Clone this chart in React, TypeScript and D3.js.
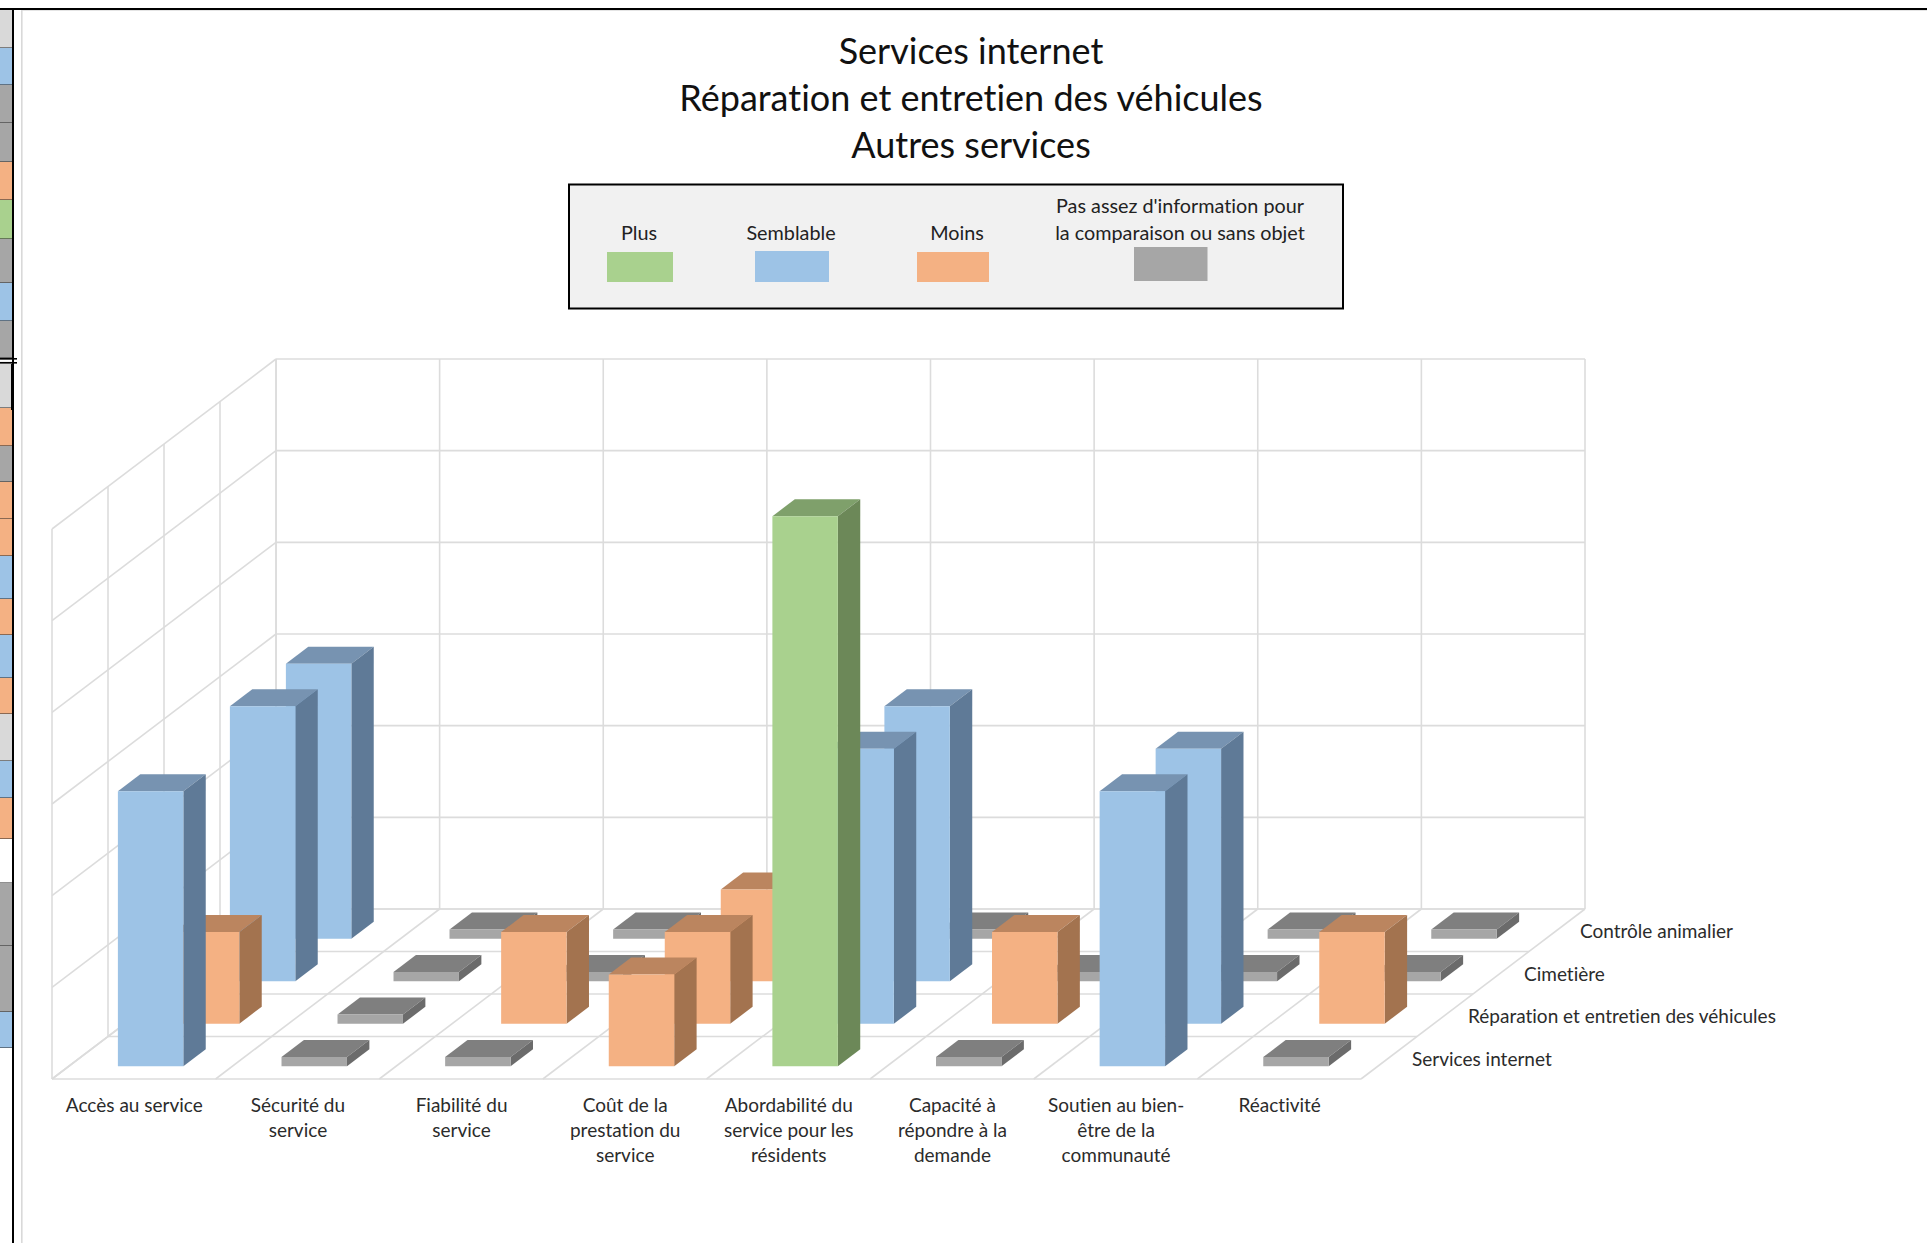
import React from "react";
import * as d3 from "d3";

// Categories along the front edge, and how each label wraps.
const categories = [
  "Accès au service",
  "Sécurité du service",
  "Fiabilité du service",
  "Coût de la prestation du service",
  "Abordabilité du service pour les résidents",
  "Capacité à répondre à la demande",
  "Soutien au bien-être de la communauté",
  "Réactivité",
];
const categoryLines = [
  ["Accès au service"],
  ["Sécurité du", "service"],
  ["Fiabilité du", "service"],
  ["Coût de la", "prestation du", "service"],
  ["Abordabilité du", "service pour les", "résidents"],
  ["Capacité à", "répondre à la", "demande"],
  ["Soutien au bien-", "être de la", "communauté"],
  ["Réactivité"],
];

// Series, front row first.
const seriesNames = [
  "Services internet",
  "Réparation et entretien des véhicules",
  "Cimetière",
  "Contrôle animalier",
];
const servicesInternet = [3, 0.1, 0.1, 1, 6, 0.1, 3, 0.1];
const reparationVehicules = [1, 0.1, 1, 1, 3, 1, 3, 1];
const cimetiere = [3, 0.1, 0.1, 1, 3, 0.1, 0.1, 0.1];
const controleAnimalier = [3, 0.1, 0.1, 0.1, 0.1, 0.1, 0.1, 0.1];
const seriesValues = [servicesInternet, reparationVehicules, cimetiere, controleAnimalier];

const valueTicks = [0, 1, 2, 3, 4, 5, 6];
const titleLines = ["Services internet", "Réparation et entretien des véhicules", "Autres services"];

type Faces = { front: string; top: string; side: string };
const BLUE: Faces = { front: "#9DC3E6", top: "#7793B1", side: "#5F7A97" };
const ORANGE: Faces = { front: "#F4B183", top: "#BB855F", side: "#A3734F" };
const GREEN: Faces = { front: "#A9D18E", top: "#7FA06B", side: "#6C8858" };
const GREY: Faces = { front: "#A6A6A6", top: "#7F7F7F", side: "#6B6B6B" };
const facesFor = (v: number): Faces => (v >= 6 ? GREEN : v >= 3 ? BLUE : v >= 1 ? ORANGE : GREY);

// Spreadsheet cells peeking out at the left edge: lower bound and fill.
const CELL_L = "#D9D9D9";
const CELL_B = "#9DC3E6";
const CELL_G = "#A6A6A6";
const CELL_O = "#F4B183";
const CELL_V = "#A9D18E";
const CELL_W = "#FFFFFF";
const sheetCellEnds = [48, 85, 123, 162, 200, 239, 283, 321, 358, 408, 446, 482, 519, 556, 599, 635, 678, 714, 761, 798, 839, 883, 946, 1012, 1048, 1243];
const sheetCellFills = [CELL_L, CELL_B, CELL_G, CELL_G, CELL_O, CELL_V, CELL_G, CELL_B, CELL_G, CELL_L, CELL_O, CELL_G, CELL_O, CELL_O, CELL_B, CELL_O, CELL_B, CELL_O, CELL_L, CELL_B, CELL_O, CELL_W, CELL_G, CELL_G, CELL_B, CELL_W];
const thickSheetRules = [123, 200, 714, 798, 839, 946, 1048];

const FONT = "Lato, Carlito, Calibri, sans-serif";
const LABEL_SIZE = 19;

// Oblique box geometry: the floor is sheared by this vector from front to back.
const FLOOR_LEFT = 52;
const FLOOR_RIGHT = 1361;
const FLOOR_FRONT_Y = 1079;
const DEPTH_DX = 224;
const DEPTH_DY = -170;
const WALL_H = 550;

const xGrid = d3.scaleLinear().domain([0, categories.length]).range([FLOOR_LEFT, FLOOR_RIGHT]);
const xBar = d3
  .scaleBand<string>()
  .domain(categories)
  .range([FLOOR_LEFT, FLOOR_RIGHT])
  .paddingInner(0.6)
  .paddingOuter(0.3);
const depthBar = d3
  .scaleBand<string>()
  .domain(seriesNames)
  .range([0, 1])
  .paddingInner(0.6)
  .paddingOuter(0.3);
const depthGrid = d3.scaleLinear().domain([0, seriesNames.length]).range([0, 1]);
const zScale = d3.scaleLinear().domain([0, 6]).range([0, WALL_H]);

type Pt = [number, number];
const project = (x: number, depth: number, value: number): Pt => [
  x + depth * DEPTH_DX,
  FLOOR_FRONT_Y + depth * DEPTH_DY - zScale(value),
];
const poly = (pts: Pt[]) => (d3.line()(pts) ?? "") + "Z";
const seg = (a: Pt, b: Pt) => d3.line()([a, b]) ?? "";

const gridSegments: string[] = [];
// Back wall and side wall, one rule per value tick.
valueTicks.forEach((t) => {
  gridSegments.push(seg(project(FLOOR_LEFT, 0, t), project(FLOOR_LEFT, 1, t)));
  gridSegments.push(seg(project(FLOOR_LEFT, 1, t), project(FLOOR_RIGHT, 1, t)));
});
d3.range(seriesNames.length + 1).forEach((i) => {
  const d = depthGrid(i);
  gridSegments.push(seg(project(FLOOR_LEFT, d, 0), project(FLOOR_LEFT, d, 6)));
  gridSegments.push(seg(project(FLOOR_LEFT, d, 0), project(FLOOR_RIGHT, d, 0)));
});
d3.range(categories.length + 1).forEach((i) => {
  const x = xGrid(i);
  gridSegments.push(seg(project(x, 1, 0), project(x, 1, 6)));
  gridSegments.push(seg(project(x, 0, 0), project(x, 1, 0)));
});

// Back row first so nearer columns paint over farther ones.
const drawOrder = d3.range(seriesNames.length).reverse();

function Column({ cat, s }: { cat: number; s: number }) {
  const v = seriesValues[s][cat];
  const x0 = xBar(categories[cat])!;
  const x1 = x0 + xBar.bandwidth();
  const d0 = depthBar(seriesNames[s])!;
  const d1 = d0 + depthBar.bandwidth();
  const f = facesFor(v);
  return (
    <g>
      <path d={poly([project(x0, d0, v), project(x1, d0, v), project(x1, d1, v), project(x0, d1, v)])} fill={f.top} />
      <path d={poly([project(x1, d0, 0), project(x1, d1, 0), project(x1, d1, v), project(x1, d0, v)])} fill={f.side} />
      <path d={poly([project(x0, d0, 0), project(x1, d0, 0), project(x1, d0, v), project(x0, d0, v)])} fill={f.front} />
    </g>
  );
}

function SheetEdge() {
  return (
    <g>
      {sheetCellFills.map((fill, i) => {
        const y0 = i === 0 ? 9 : sheetCellEnds[i - 1];
        const y1 = sheetCellEnds[i];
        return (
          <g key={i}>
            <rect x={0} y={y0} width={12} height={y1 - y0} fill={fill} />
            {i < sheetCellFills.length - 1 && (
              <rect
                x={0}
                y={y1 - 0.5}
                width={12}
                height={thickSheetRules.includes(y1) ? 1.6 : 0.8}
                fill="#222"
              />
            )}
          </g>
        );
      })}
      <rect x={0} y={358} width={17} height={1.6} fill="#000" />
      <rect x={0} y={360} width={17} height={1.6} fill="#fff" />
      <rect x={0} y={362} width={17} height={1.6} fill="#000" />
      <rect x={12} y={9} width={2} height={1234} fill="#000" />
      <rect x={11} y={364} width={3} height={46} fill="#000" />
    </g>
  );
}

export default function App() {
  return (
    <svg
      width={1927}
      height={1243}
      viewBox="0 0 1927 1243"
      style={{ position: "absolute", left: 0, top: 0, display: "block", background: "#fff", fontVariantLigatures: "none" }}
      fontFamily={FONT}
    >
      <SheetEdge />
      <rect x={0} y={8} width={1927} height={2} fill="#000" />
      <rect x={21} y={10} width={1906} height={1} fill="#E4E4E4" />
      <rect x={21} y={10} width={1.6} height={1233} fill="#D9D9D9" />

      {titleLines.map((t, i) => (
        <text key={t} x={971} y={63.5 + i * 47.3} textAnchor="middle" fontSize={36} fill="#111">
          {t}
        </text>
      ))}

      <g>
        <rect x={569} y={184.5} width={774} height={124} fill="#F1F1F1" stroke="#000" strokeWidth={2} />
        <text x={639} y={240} textAnchor="middle" fontSize={LABEL_SIZE + 0.8} fill="#222">Plus</text>
        <text x={791} y={240} textAnchor="middle" fontSize={LABEL_SIZE + 0.8} fill="#222">Semblable</text>
        <text x={957} y={240} textAnchor="middle" fontSize={LABEL_SIZE + 0.8} fill="#222">Moins</text>
        <text x={1180} y={212.5} textAnchor="middle" fontSize={LABEL_SIZE + 0.8} fill="#222">Pas assez d'information pour</text>
        <text x={1180} y={239.5} textAnchor="middle" fontSize={LABEL_SIZE + 0.8} fill="#222">la comparaison ou sans objet</text>
        <rect x={607} y={252} width={66} height={30} fill={GREEN.front} />
        <rect x={755} y={251} width={74} height={31} fill={BLUE.front} />
        <rect x={917} y={252} width={72} height={30} fill={ORANGE.front} />
        <rect x={1134} y={247} width={73.5} height={34} fill={GREY.front} />
      </g>

      <g fill="none" stroke="#DCDCDC" strokeWidth={1.6}>
        {gridSegments.map((d, i) => (
          <path key={i} d={d} />
        ))}
      </g>

      {drawOrder.map((s) => (
        <g key={seriesNames[s]}>
          {categories.map((_, c) => (
            <Column key={c} cat={c} s={s} />
          ))}
        </g>
      ))}

      {categoryLines.map((lines, c) => (
        <text key={c} textAnchor="middle" fontSize={LABEL_SIZE} fill="#2b2b2b">
          {lines.map((ln, i) => (
            <tspan key={i} x={xGrid(c + 0.5) + 0.5} y={1111.5 + i * 25}>
              {ln}
            </tspan>
          ))}
        </text>
      ))}

      {seriesNames.map((name, s) => {
        const [x, y] = project(FLOOR_RIGHT, depthGrid(s), 0);
        return (
          <text key={name} x={x + 51} y={y - 13.5} fontSize={LABEL_SIZE} fill="#2b2b2b">
            {name}
          </text>
        );
      })}
    </svg>
  );
}
